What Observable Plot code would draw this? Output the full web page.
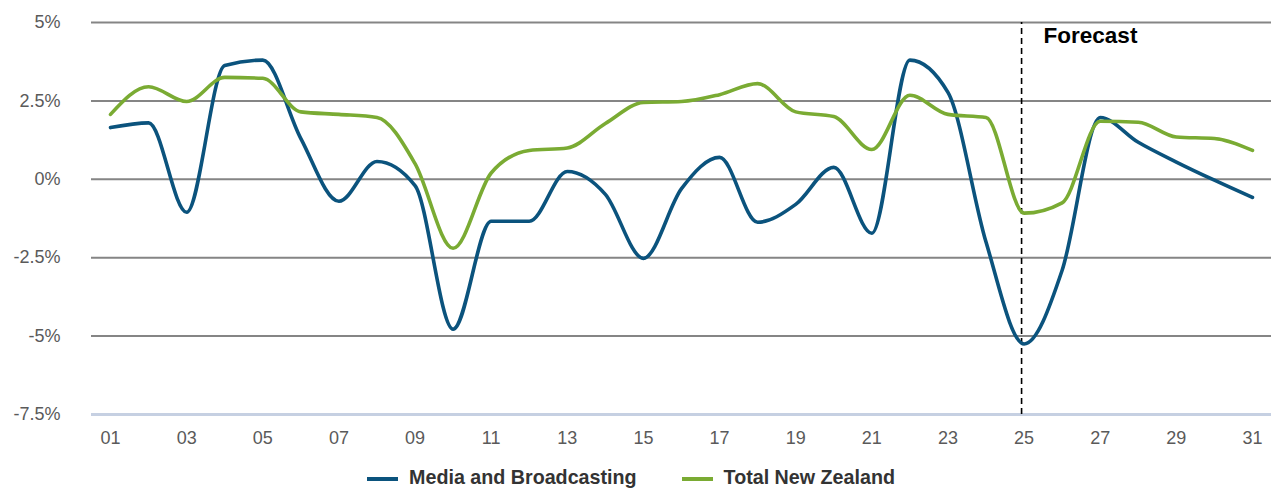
<!DOCTYPE html>
<html>
<head>
<meta charset="utf-8">
<script src="https://cdn.jsdelivr.net/npm/d3@7"></script>
<script src="https://cdn.jsdelivr.net/npm/@observablehq/plot@0.6"></script>
<style>
  html, body { margin: 0; padding: 0; background: #fff; }
  body { width: 1271px; height: 488px; overflow: hidden; font-family: "Liberation Sans", Arial, sans-serif; }
  #legend { display: flex; justify-content: center; align-items: center; gap: 45px; margin-top: 8px; padding-right: 9px; font-weight: bold; font-size: 19.7px; color: #333; }
  .item { display: flex; align-items: center; gap: 11px; }
  .sw { width: 31px; height: 4px; margin-top: 2px; }
</style>
</head>
<body>
<div id="chart"></div>
<div id="legend"></div>
<script>
const years = [1,2,3,4,5,6,7,8,9,10,11,12,13,14,15,16,17,18,19,20,21,22,23,24,25,26,27,28,29,30,31];
const media = [1.65,1.8,-1.05,3.63,3.8,1.3,-0.7,0.57,-0.2,-4.78,-1.34,-1.34,0.25,-0.48,-2.52,-0.3,0.7,-1.37,-0.8,0.38,-1.72,3.8,2.77,-2.0,-5.25,-2.9,1.97,1.18,0.55,-0.03,-0.58];
const totalNZ = [2.07,2.95,2.48,3.25,3.22,2.15,2.07,1.97,0.5,-2.2,0.2,0.92,1.0,1.78,2.45,2.48,2.7,3.05,2.15,2.0,0.95,2.68,2.07,1.97,-1.08,-0.75,1.85,1.82,1.35,1.3,0.92];
const seriesNames = ["Media and Broadcasting", "Total New Zealand"];
const seriesColors = ["#0b537d", "#7aab33"];
const xTicks = [1,3,5,7,9,11,13,15,17,19,21,23,25,27,29,31];
const yTicks = [5,2.5,0,-2.5,-5,-7.5];
const forecastYear = 25;
const forecastLabel = "Forecast";

const rows = [];
years.forEach((yr, i) => {
  rows.push({year: yr, value: media[i], series: seriesNames[0]});
  rows.push({year: yr, value: totalNZ[i], series: seriesNames[1]});
});

const fmtY = v => `${v}%`;

const chart = Plot.plot({
  width: 1271,
  height: 458,
  marginLeft: 91,
  marginRight: 0,
  marginTop: 22,
  marginBottom: 44,
  style: {fontFamily: "Liberation Sans, Arial, sans-serif", fontSize: "18px", color: "#5a5a5a", background: "#fff"},
  x: {domain: [0.5, 31.5], ticks: xTicks, tickFormat: d => String(d).padStart(2, "0"), tickSize: 0, tickPadding: 17, label: null},
  y: {domain: [-7.5, 5], ticks: yTicks, tickFormat: fmtY, tickSize: 0, tickPadding: 31, label: null},
  color: {domain: seriesNames, range: seriesColors},
  marks: [
    Plot.ruleY(yTicks.filter(v => v !== -7.5), {stroke: "#858585", strokeWidth: 2}),
    Plot.ruleY([-7.5], {stroke: "#c6d0e2", strokeWidth: 3}),
    Plot.ruleX([forecastYear], {y1: -7.5, y2: 5, dx: -2.5, stroke: "#000", strokeWidth: 1.6, strokeDasharray: "6,4"}),
    Plot.line(rows, {x: "year", y: "value", z: "series", stroke: "series", strokeWidth: 3.6, curve: "monotone-x"}),
    Plot.text([forecastLabel], {x: forecastYear, y: 5, text: d => d, dx: 19.5, dy: 13, textAnchor: "start", fontWeight: "bold", fontSize: 22.5, fill: "#000"})
  ]
});
document.getElementById("chart").appendChild(chart);

const legend = document.getElementById("legend");
seriesNames.forEach((name, i) => {
  const item = document.createElement("div");
  item.className = "item";
  const sw = document.createElement("div");
  sw.className = "sw";
  sw.style.background = seriesColors[i];
  const label = document.createElement("span");
  label.textContent = name;
  item.appendChild(sw);
  item.appendChild(label);
  legend.appendChild(item);
});
</script>
</body>
</html>
